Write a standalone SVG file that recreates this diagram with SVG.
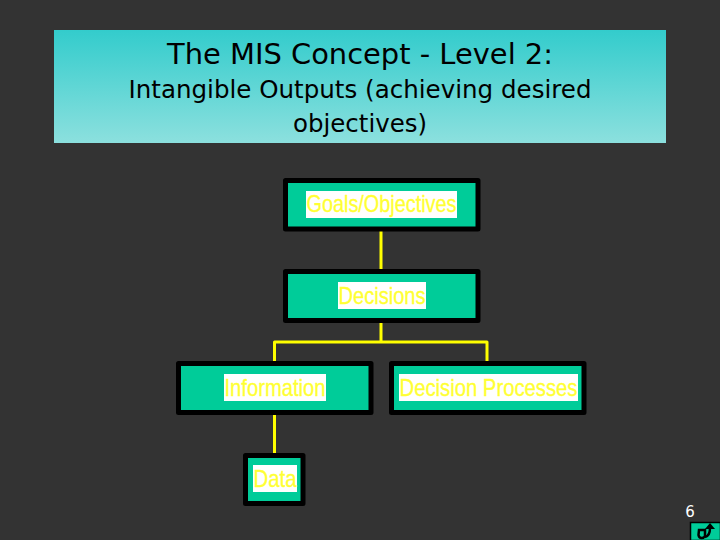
<svg xmlns="http://www.w3.org/2000/svg" width="720" height="540" viewBox="0 0 720 540">
<style>
.box{fill:#00cc99;stroke:#000;stroke-width:5;stroke-linejoin:round}
.bg{fill:#fff}
.lbl{font-family:"Liberation Sans",Arial,sans-serif;font-size:24px;fill:#ffff33;stroke:#ffff33;stroke-width:.35;text-anchor:middle}
.ttl{font-family:"DejaVu Sans",Verdana,sans-serif;fill:#000;text-anchor:middle}
.con{fill:none;stroke:#ffff00;stroke-width:3;stroke-linejoin:round}
</style>
<defs><linearGradient id="g" x1="0" y1="0" x2="0" y2="1"><stop offset="0" stop-color="#33cccc"/><stop offset="1" stop-color="#8ce0de"/></linearGradient></defs>
<rect width="720" height="540" fill="#333333"/>
<g id="title">
<rect x="54" y="30" width="612" height="113" fill="url(#g)"/>
<text class="ttl" x="360" y="64" font-size="28" textLength="386" lengthAdjust="spacingAndGlyphs">The MIS Concept - Level 2:</text>
<text class="ttl" x="360" y="98" font-size="25" textLength="463" lengthAdjust="spacingAndGlyphs">Intangible Outputs (achieving desired</text>
<text class="ttl" x="360" y="132" font-size="25" textLength="134" lengthAdjust="spacingAndGlyphs">objectives)</text>
</g>
<g id="connectors">
<path class="con" d="M381 231V270M381 322V342M274.500 362V342H487V362M274.500 414V454"/>
</g>
<g id="n1"><rect class="box" x="285.500" y="180.500" width="192.500" height="48.500"/><rect class="bg" x="306" y="191" width="151" height="27"/><text class="lbl" x="381.500" y="212" textLength="150" lengthAdjust="spacingAndGlyphs">Goals/Objectives</text></g>
<g id="n2"><rect class="box" x="285.500" y="271.500" width="192.500" height="49"/><rect class="bg" x="338" y="282" width="88" height="27"/><text class="lbl" x="382" y="304" textLength="87" lengthAdjust="spacingAndGlyphs">Decisions</text></g>
<g id="n3"><rect class="box" x="178.500" y="363.500" width="192.500" height="49"/><rect class="bg" x="224" y="374" width="102" height="27"/><text class="lbl" x="275" y="396" textLength="101" lengthAdjust="spacingAndGlyphs">Information</text></g>
<g id="n4"><rect class="box" x="391.500" y="363.500" width="192.500" height="49"/><rect class="bg" x="399" y="374" width="179" height="27"/><text class="lbl" x="488.500" y="396" textLength="178" lengthAdjust="spacingAndGlyphs">Decision Processes</text></g>
<g id="n5"><rect class="box" x="245.500" y="455.500" width="57.500" height="48"/><rect class="bg" x="253" y="465" width="44" height="27"/><text class="lbl" x="275" y="487" textLength="43" lengthAdjust="spacingAndGlyphs">Data</text></g>
<text x="690" y="517" font-family="'DejaVu Sans',sans-serif" font-size="15" fill="#fff" text-anchor="middle">6</text>
<g id="icon">
<rect x="690.500" y="522.500" width="30" height="18" fill="#00cc99" stroke="#000" stroke-width="1.500"/>
<path d="M699 530h6v6q-1 2-3.500 2t-3-3z" fill="none" stroke="#000" stroke-width="2.500"/>
<path d="M705 537q5-1 5-9" fill="none" stroke="#000" stroke-width="2.500"/>
<path d="M705 529l5-6 5 6z" fill="#000"/>
</g>
</svg>
